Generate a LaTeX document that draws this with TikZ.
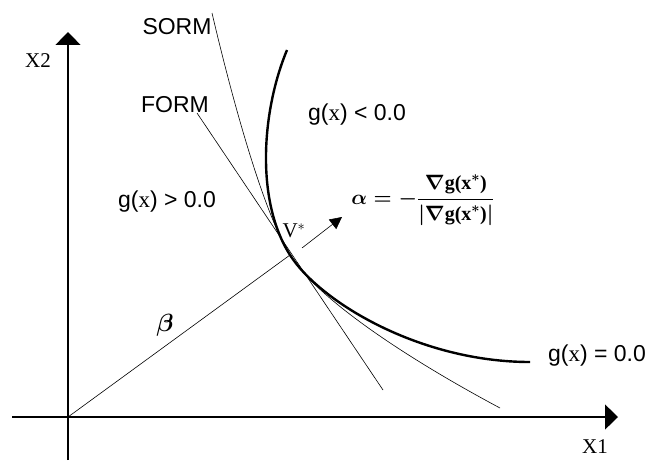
\documentclass[tikz,border=0pt]{standalone}
\usepackage{amsmath,amssymb}
\usepackage{fontspec}
\setmainfont{Liberation Sans}
\newfontfamily\timesfont{Liberation Serif}
\usepackage{tikz}
\usetikzlibrary{arrows.meta,positioning,calc}

\tikzset{
  axis/.style={line width=1.2pt, -{Triangle[width=25pt,length=13pt]}},
  thinline/.style={line width=0.6pt},
  lbl/.style={inner sep=0pt, font=\fontsize{23}{27}\selectfont},
  axlbl/.style={inner sep=0pt, font=\timesfont\fontsize{21}{25}\selectfont}
}

\begin{document}
\begin{tikzpicture}[x=1pt, y=-1pt, >=Stealth]
  \useasboundingbox (0,0) rectangle (647,460);

  % Axes
  \coordinate (O) at (68,417);
  \coordinate (xend) at (618,417);
  \coordinate (yend) at (68,32);
  \draw[axis] (12,417) -- (xend);
  \draw[axis] (68,460) -- (yend);
  \node[axlbl] (X1) at (595,447) {X1};
  \node[axlbl] (X2) at (38,61) {X2};

  % Design point
  \coordinate (V) at (290,255);

  % FORM tangent line
  \coordinate (form1) at (197,113);
  \coordinate (form2) at (383,390);
  \draw[thinline] (form1) -- (form2);

  % SORM approximation
  \coordinate (sorm1) at (212,13);
  \coordinate (sorm2) at (500,408);
  \draw[thinline] (sorm1) .. controls (230,90) and (262,210) .. (V)
    .. controls (318,300) and (410,360) .. (sorm2);

  % Limit state surface
  \coordinate (g1) at (287,50);
  \coordinate (g2) at (530,362);
  \draw[line width=2.4pt] (g1) .. controls (262,110) and (255,200) .. (V)
    .. controls (320,302) and (420,362) .. (g2);

  % Reliability index and direction
  \draw[thinline] (O) -- (V);
  \coordinate (a1) at (302,248);
  \coordinate (a2) at (342,217);
  \draw[thinline, -{Triangle[width=12pt,length=12pt]}] (a1) -- (a2);

  % Labels
  \node[lbl] (sorm) at (177,27) {SORM};
  \node[lbl] (form) at (175,105) {FORM};
  \node[lbl] (gneg) at (357,115) {g({\timesfont x}) < 0.0};
  \node[lbl] (gpos) at (167,202) {g({\timesfont x}) > 0.0};
  \node[lbl] (gzero) at (597,356) {g({\timesfont x}) = 0.0};
  \node[lbl] (beta) at (165,325) {$\boldsymbol{\beta}$};
  \node[inner sep=0pt, font=\timesfont\fontsize{21}{25}\selectfont] (vstar) at (294,231) {V$^{*}$};
  \node[inner sep=0pt, font=\fontsize{20}{24}\selectfont\boldmath] (alpha) at (423,200)
    {$\alpha = -\dfrac{\nabla \text{\timesfont\bfseries g(x}^{*}\text{\timesfont\bfseries )}}{\lvert\nabla \text{\timesfont\bfseries g(x}^{*}\text{\timesfont\bfseries )}\rvert}$};
\end{tikzpicture}
\end{document}
